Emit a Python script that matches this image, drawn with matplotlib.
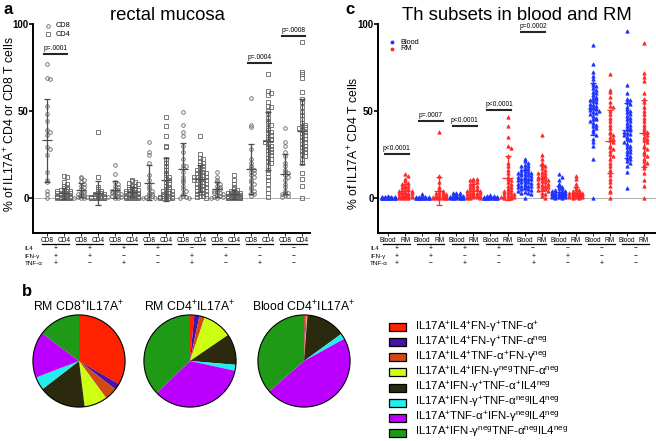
import matplotlib
matplotlib.use("Agg")
import matplotlib.pyplot as plt
import numpy as np
from matplotlib.patches import Rectangle, Circle

plt.rcParams["font.family"] = ["Liberation Sans", "DejaVu Sans"]
plt.rcParams["mathtext.fontset"] = "custom"
plt.rcParams["mathtext.rm"] = "Liberation Sans"
plt.rcParams["mathtext.it"] = "Liberation Sans:italic"
plt.rcParams["mathtext.bf"] = "Liberation Sans:bold"

# ---- data -------------------------------------------------------------
# subsets in order: IL4/IFN-g/TNF-a sign pattern
il4_signs = ["+", "+", "+", "+", "\u2212", "\u2212", "\u2212", "\u2212"]
ifn_signs = ["+", "+", "\u2212", "\u2212", "+", "+", "\u2212", "\u2212"]
tnf_signs = ["+", "\u2212", "+", "\u2212", "+", "\u2212", "+", "\u2212"]

# panel a: % IL17A+ cells in rectal mucosa, CD8 and CD4
mucosa_cd8 = [
    [77, 69, 68, 53, 48, 44, 39, 38, 36, 29, 28, 24.5, 15, 10, 9, 4, 2, 0],
    [12, 11.5, 10, 9, 8, 7, 6, 5, 4, 3, 2.5, 2, 1.5, 1, 0.5, 0.3, 0, 0, 0],
    [19, 13.5, 9, 8, 7, 6, 5, 4.5, 4, 3.5, 3, 2.5, 2, 1.5, 1, 1, 0.5, 0.3, 0, 0],
    [32, 26, 24.5, 20, 13, 10, 8, 6, 5, 4, 3, 2, 1.5, 1, 0.5, 0, 0, 0],
    [49.5, 42, 38, 35.5, 30, 26, 22, 19, 18, 17, 15, 12, 10, 9, 7, 5, 4, 2, 1, 0.5, 0, 0],
    [15, 12, 10, 9, 8, 7, 6, 5, 5, 4, 3.5, 3, 2.5, 2, 1.5, 1, 0.5, 0.3, 0, 0],
    [57.5, 42, 40.5, 28, 22, 20, 18, 17, 16, 15, 14, 13, 12, 10, 9, 8, 6, 5, 4, 3, 2, 1],
    [40, 32, 30, 26, 24, 20, 18, 16, 15, 14, 13, 12, 10, 8, 6, 4, 3, 2.5, 2, 1.5, 1, 0.5],
]
mucosa_cd4 = [
    [12.5, 12, 9, 8, 7, 6, 5.5, 5, 4.5, 4, 4, 3.5, 3, 3, 2.5, 2.5, 2, 2, 2, 1.5, 1.5,
     1.5, 1, 1, 1, 1, 0.5, 0.5, 0.5, 0.5, 0.5, 0.3, 0.3, 0.2, 0.2, 0.1, 0.1, 0, 0, 0, 0, 0, 0],
    [38, 12, 6, 5, 4, 3, 3, 2, 2, 1.5, 1, 1, 1, 0.5, 0.5, 0.5, 0.3, 0.2, 0.2, 0.1, 0.1,
     0, 0, 0, 0, 0, 0, 0, 0, 0],
    [10, 9.5, 9, 8.5, 8, 7, 6.5, 6, 5.5, 5, 5, 4.5, 4, 4, 3.5, 3.5, 3, 3, 2.5, 2.5, 2, 2,
     2, 1.5, 1.5, 1.5, 1, 1, 1, 0.8, 0.5, 0.5, 0.5, 0.3, 0.3, 0.2, 0.1, 0, 0, 0, 0],
    [46.5, 41, 35.5, 30, 29, 22, 20, 18, 16, 14, 13, 12, 11, 10, 9, 8, 7, 6, 5, 5, 4, 4,
     3, 3, 2, 2, 1.5, 1, 1, 0.5, 0.5, 0.3, 0, 0, 0, 0, 0],
    [35.5, 25, 23, 22, 21, 20, 19, 18, 17, 16.5, 16, 15, 15, 14, 14, 13, 13, 12, 12, 12,
     11, 11, 10, 10, 10, 9, 9, 8, 8, 7, 7, 6, 6, 5, 5, 4, 4, 3, 3, 2, 2, 1, 1, 0.5, 0],
    [13, 10, 8, 6, 5, 4.5, 4, 3.5, 3, 3, 2.5, 2.5, 2, 2, 2, 1.5, 1.5, 1.5, 1.5, 1, 1, 1,
     1, 1, 0.8, 0.8, 0.5, 0.5, 0.5, 0.5, 0.5, 0.3, 0.3, 0.3, 0.2, 0.2, 0.2, 0.1, 0.1,
     0, 0, 0, 0, 0, 0],
    [71, 61.5, 60, 59, 55, 53, 52, 50, 48.5, 46, 44, 43, 42, 40, 39, 38, 37, 36, 35, 34,
     33.5, 33, 32, 31, 30, 29, 28, 27.5, 26, 25, 24.5, 23, 22, 21, 20, 18, 16, 14, 12,
     10, 8, 5, 3, 0.5],
    [89.5, 72.5, 71, 69, 61, 57, 55, 52, 49, 47.5, 45, 43, 42, 41, 40.5, 40, 39, 38, 37,
     36, 35, 34, 33, 32, 31, 30, 29, 28, 27, 26, 25, 24, 22, 20, 14, 11, 7, 0],
]
mucosa_pvals = ["p=.0001", None, None, None, None, None, "p=.0004", "p=.0008"]

# panel c: % IL17A+ CD4 T cells, blood vs rectal mucosa (RM)
blood_cd4 = [
    [0.8, 0.6, 0.5, 0.5, 0.4, 0.3, 0.3, 0.2, 0.2, 0.2, 0.1, 0.1, 0.1, 0.1, 0, 0, 0, 0,
     0, 0, 0, 0, 0, 0, 0],
    [2, 0.6, 0.5, 0.4, 0.3, 0.3, 0.2, 0.2, 0.1, 0.1, 0.1, 0, 0, 0, 0, 0, 0, 0, 0, 0],
    [3, 2.5, 2.5, 1.5, 1, 1, 0.8, 0.6, 0.5, 0.4, 0.3, 0.3, 0.2, 0.2, 0.1, 0.1, 0, 0, 0,
     0, 0, 0],
    [1.5, 1, 0.8, 0.6, 0.5, 0.4, 0.3, 0.2, 0.2, 0.1, 0.1, 0, 0, 0, 0, 0, 0, 0, 0, 0],
    [22, 21, 20, 19, 18.5, 18, 17, 16.5, 16, 15.5, 15, 14.5, 14, 14, 13.5, 13, 13, 12.5,
     12, 12, 11.5, 11, 11, 10.5, 10, 10, 9.5, 9, 9, 8.5, 8, 8, 7.5, 7, 7, 6.5, 6, 6, 5.5,
     5, 5, 4.5, 4, 3.5, 3, 2.5, 2, 0],
    [13.5, 12, 10, 8, 7, 6, 5.5, 5, 4.5, 4, 4, 3.5, 3.5, 3, 3, 3, 2.5, 2.5, 2, 2, 2, 1.5,
     1.5, 1.5, 1, 1, 1, 0.8, 0.5, 0.5, 0.3, 0.2, 0, 0],
    [88, 77, 72.5, 70, 68, 66, 65, 64, 63, 62, 61, 60, 59, 58, 57.5, 57, 56, 55.5, 55, 54,
     53.5, 53, 52, 51.5, 51, 50.5, 50, 49, 48.5, 48, 47, 46, 45.5, 45, 44, 43, 42, 41, 40,
     39, 37.5, 36, 34, 32, 29.5, 22, 0],
    [96, 65, 60, 57, 56, 55, 54, 52, 51, 50, 49, 48, 47, 46, 45, 44, 43, 42, 41, 40, 39.5,
     39, 38, 37, 36.5, 36, 35, 34, 33.5, 33, 32, 31, 30, 29, 28, 27, 26, 25, 24, 23, 22,
     21, 20, 18, 15, 5.5],
]
rm_cd4 = [
    [13.5, 12.5, 11, 9.5, 8.5, 8, 7, 6.5, 6, 5.5, 5, 4.5, 4, 4, 3.5, 3, 3, 2.5, 2.5, 2, 2,
     1.5, 1.5, 1, 1, 1, 0.5, 0.5, 0.3, 0.2, 0, 0, 0, 0],
    [38, 12.5, 9, 6, 5, 4, 3.5, 3, 2.5, 2, 1.5, 1.5, 1, 1, 0.5, 0.5, 0.3, 0.2, 0, 0, 0, 0,
     0, 0],
    [11, 10.5, 10, 9.5, 9, 8, 7.5, 7, 6, 5.5, 5, 4.5, 4, 4, 3.5, 3, 3, 2.5, 2, 2, 1.5, 1.5,
     1, 1, 0.5, 0.5, 0.3, 0, 0, 0],
    [46.5, 41, 35, 29.5, 28.5, 24, 20, 18, 16, 14, 12, 11, 10, 9, 8, 7, 6, 5, 4.5, 4, 3.5,
     3, 2.5, 2, 1.5, 1, 1, 0.5, 0.5, 0, 0, 0],
    [36, 24.5, 22, 20, 19, 18, 17, 16, 15, 14.5, 14, 13, 12.5, 12, 11.5, 11, 10.5, 10, 9.5,
     9, 8.5, 8, 7.5, 7, 6.5, 6, 5.5, 5, 4.5, 4, 3, 2, 1, 0],
    [12.5, 11, 8, 6, 5, 4.5, 4, 3.5, 3.5, 3, 3, 2.5, 2.5, 2, 2, 2, 1.5, 1.5, 1.5, 1, 1, 1,
     0.8, 0.5, 0.5, 0.3, 0.2, 0, 0],
    [71, 62, 61, 58, 55, 53, 52, 50, 48, 46, 44, 42, 40, 38, 37, 36, 35, 34, 33, 32, 30,
     29, 28, 27, 25, 24, 22, 20, 18, 16, 15, 13, 11, 9, 7, 4, 3.5, 0],
    [89, 71.5, 69.5, 67, 60, 57, 55, 52, 50, 48, 46, 44, 42, 40, 39, 38, 37, 36, 35, 34,
     33, 32, 30, 29, 28, 26, 25, 24, 22, 21, 20, 19, 17, 14, 10, 7, 0],
]
blood_rm_pvals = ["p<0.0001", "p=.0007", "p<0.0001", "p<0.0001", "p=0.0002", None, None, None]

# panel b: composition of IL17A+ cells (%)
pie_titles = ["RM CD8$^{+}$IL17A$^{+}$", "RM CD4$^{+}$IL17A$^{+}$", "Blood CD4$^{+}$IL17A$^{+}$"]
rm_cd8_pie = [33.3, 2.2, 4.4, 8.1, 16.5, 4.6, 16.1, 14.7]
rm_cd4_pie = [1.5, 1.8, 1.9, 10.3, 10.9, 2.1, 34.5, 37.3]
blood_cd4_pie = [0.3, 0.2, 0.5, 0.2, 13.8, 2.0, 46.6, 36.4]
pie_labels = [
    "IL17A$^{+}$IL4$^{+}$FN-\u03b3$^{+}$TNF-\u03b1$^{+}$",
    "IL17A$^{+}$IL4$^{+}$FN-\u03b3$^{+}$TNF-\u03b1$^{\\mathrm{neg}}$",
    "IL17A$^{+}$IL4$^{+}$TNF-\u03b1$^{+}$FN-\u03b3$^{\\mathrm{neg}}$",
    "IL17A$^{+}$IL4$^{+}$IFN-\u03b3$^{\\mathrm{neg}}$TNF-\u03b1$^{\\mathrm{neg}}$",
    "IL17A$^{+}$IFN-\u03b3$^{+}$TNF-\u03b1$^{+}$IL4$^{\\mathrm{neg}}$",
    "IL17A$^{+}$IFN-\u03b3$^{+}$TNF-\u03b1$^{\\mathrm{neg}}$IL4$^{\\mathrm{neg}}$",
    "IL17A$^{+}$TNF-\u03b1$^{+}$IFN-\u03b3$^{\\mathrm{neg}}$IL4$^{\\mathrm{neg}}$",
    "IL17A$^{+}$IFN-\u03b3$^{\\mathrm{neg}}$TNF-\u03b1$^{\\mathrm{neg}}$IL4$^{\\mathrm{neg}}$",
]
pie_colors = ["#ff2200", "#4a10a8", "#cf4a14", "#ccff12",
              "#2c2a0e", "#22eeee", "#bb00ff", "#1f9a16"]

# ---- layout -----------------------------------------------------------
W, H = 656, 441
fig = plt.figure(figsize=(W / 100, H / 100), dpi=100)


def px_axes(left, top, right, bottom):
    return fig.add_axes([left / W, 1 - bottom / H, (right - left) / W, (bottom - top) / H])


def swarm_offsets(values, step, bin_size):
    # spread points that share a value band sideways, like a column scatter
    pattern = [0, 1, -1, 2, -2]
    order = np.argsort(values)[::-1]
    offsets = np.zeros(len(values))
    counts = {}
    for i in order:
        b = int(values[i] // bin_size)
        k = counts.get(b, 0)
        counts[b] = k + 1
        offsets[i] = pattern[k % len(pattern)] * step
    return offsets


def draw_column(ax, x, vals, marker, ms, edge, face, barcolor):
    vals = np.asarray(vals, dtype=float)
    xs = x + swarm_offsets(vals, 0.19, 2.0)
    ax.plot(xs, vals, linestyle="none", marker=marker, ms=ms, mec=edge, mfc=face,
            mew=0.6, zorder=3)
    m, s = vals.mean(), vals.std(ddof=1)
    ax.errorbar(x, m, yerr=s, fmt="none", ecolor=barcolor, elinewidth=0.9,
                capsize=1.9, capthick=0.9, zorder=4)
    ax.hlines(m, x - 0.3, x + 0.3, color=barcolor, lw=0.9, zorder=4)


def style_axes(ax, xlim, ticklabels):
    ax.set_xlim(*xlim)
    ax.set_ylim(-20.1, 101)
    for side in ("top", "right"):
        ax.spines[side].set_visible(False)
    for side in ("left", "bottom"):
        ax.spines[side].set_linewidth(1.4)
    ax.spines["left"].set_bounds(-20.1, 100)
    ax.set_yticks([0, 50, 100])
    ax.set_yticklabels(["0", "50", "100"], fontsize=7, fontweight="bold")
    ax.tick_params(axis="y", length=3, width=1.2, pad=0.2)
    ax.set_xticks(range(16))
    ax.set_xticklabels(ticklabels, fontsize=4.7)
    ax.tick_params(axis="x", length=1.8, width=0.6, pad=1.0)
    ax.axhline(0, color="0.3", lw=0.6, ls=(0, (1.2, 1.2)), zorder=1)


def sign_table(ax, label_x):
    tr = ax.get_xaxis_transform()
    rows = [("IL4", il4_signs, -0.075), ("IFN-\u03b3", ifn_signs, -0.111),
            ("TNF-\u03b1", tnf_signs, -0.146)]
    for k in range(8):
        c = 2 * k + 0.5
        ax.plot([c - 0.78, c + 0.78], [-0.052, -0.052], color="black", lw=0.9,
                transform=tr, clip_on=False)
    for name, signs, yy in rows:
        ax.text(label_x, yy, name, transform=tr, fontsize=4.5, ha="left", va="center")
        for k, s in enumerate(signs):
            ax.text(2 * k + 0.5, yy, s, transform=tr, fontsize=4.8, ha="center",
                    va="center")


def pvalue_bars(ax, pvals, heights):
    for k, (txt, h) in enumerate(zip(pvals, heights)):
        if txt is None:
            continue
        c = 2 * k + 0.5
        ax.plot([c - 0.7, c + 0.7], [h, h], color="0.15", lw=1.5, clip_on=False)
        ax.text(c, h + 1.0, txt, fontsize=4.8, ha="center", va="bottom")


# panel a
ax_a = px_axes(33, 22, 310, 232.7)
style_axes(ax_a, (-0.82, 15.47), ["CD8", "CD4"] * 8)
for k in range(8):
    draw_column(ax_a, 2 * k, mucosa_cd8[k], "o", 2.6, "0.4", "none", "0.3")
    draw_column(ax_a, 2 * k + 1, mucosa_cd4[k], "s", 2.4, "0.4", "none", "0.3")
pvalue_bars(ax_a, mucosa_pvals, [82.5, 0, 0, 0, 0, 0, 77.6, 93])
sign_table(ax_a, -1.3)

# panel c
ax_c = px_axes(378, 22, 656, 232.7)
style_axes(ax_c, (-0.59, 15.7), ["Blood", "RM"] * 8)
for k in range(8):
    draw_column(ax_c, 2 * k, blood_cd4[k], "^", 2.4, "#1f35ff", "#1f35ff", "#1f35ff")
    draw_column(ax_c, 2 * k + 1, rm_cd4[k], "^", 2.4, "#ff2a2a", "#ff2a2a", "#ff2a2a")
pvalue_bars(ax_c, blood_rm_pvals, [25, 44.3, 41.2, 50.4, 95.3, 0, 0, 0])
sign_table(ax_c, -1.06)

# panel b pies
pie_sets = [rm_cd8_pie, rm_cd4_pie, blood_cd4_pie]
pie_centers = [79, 190, 304]
for vals, cx in zip(pie_sets, pie_centers):
    r = 47
    axp = px_axes(cx - r, 361 - r, cx + r, 361 + r)
    axp.pie(vals, colors=pie_colors, startangle=90, counterclock=False,
            wedgeprops=dict(linewidth=0))
    axp.add_patch(Circle((0, 0), 1, fill=False, ec="black", lw=0.8))
    axp.set_xlim(-1.02, 1.02)
    axp.set_ylim(-1.02, 1.02)
    axp.set_aspect("equal")
    axp.axis("off")

# overlay in pixel coordinates for titles, letters and legends
ov = fig.add_axes([0, 0, 1, 1])
ov.set_xlim(0, W)
ov.set_ylim(H, 0)
ov.axis("off")

ov.text(3, 9, "a", fontsize=12, fontweight="bold", ha="left", va="center")
ov.text(345, 9, "c", fontsize=12, fontweight="bold", ha="left", va="center")
ov.text(22, 291, "b", fontsize=12, fontweight="bold", ha="left", va="center")
ov.text(167, 15, "rectal mucosa", fontsize=13.3, ha="center", va="center")
ov.text(517, 15, "Th subsets in blood and RM", fontsize=13.3, ha="center", va="center")
ov.text(10, 124, "% of IL17A$^{+}$ CD4 or CD8 T cells", fontsize=8.8, rotation=90,
        ha="center", va="center")
ov.text(354, 143, "% of IL17A$^{+}$ CD4 T cells", fontsize=8.8, rotation=90,
        ha="center", va="center")

# legends inside panels a and c
ov.plot([48], [25.7], "o", ms=2.6, mec="0.4", mfc="none", mew=0.6)
ov.plot([48], [34], "s", ms=2.4, mec="0.4", mfc="none", mew=0.6)
ov.text(56, 25.7, "CD8", fontsize=5.3, va="center")
ov.text(56, 34, "CD4", fontsize=5.3, va="center")
ov.plot([392], [42.3], "o", ms=1.8, color="#1f35ff")
ov.plot([392], [49], "o", ms=1.8, color="#ff2a2a")
ov.text(400, 42.3, "Blood", fontsize=5.3, va="center")
ov.text(400, 49, "RM", fontsize=5.3, va="center")

# pie titles and colour legend
for title, cx in zip(pie_titles, pie_centers):
    ov.text(cx, 307, title, fontsize=8.8, ha="center", va="center")
for k, (lab, col) in enumerate(zip(pie_labels, pie_colors)):
    y = 327.3 + k * 15.05
    ov.add_patch(Rectangle((388.5, y - 4), 17, 8, fc=col, ec="black", lw=0.9))
    ov.text(415, y, lab, fontsize=8.2, ha="left", va="center")

fig.savefig("out.png", dpi=100)
